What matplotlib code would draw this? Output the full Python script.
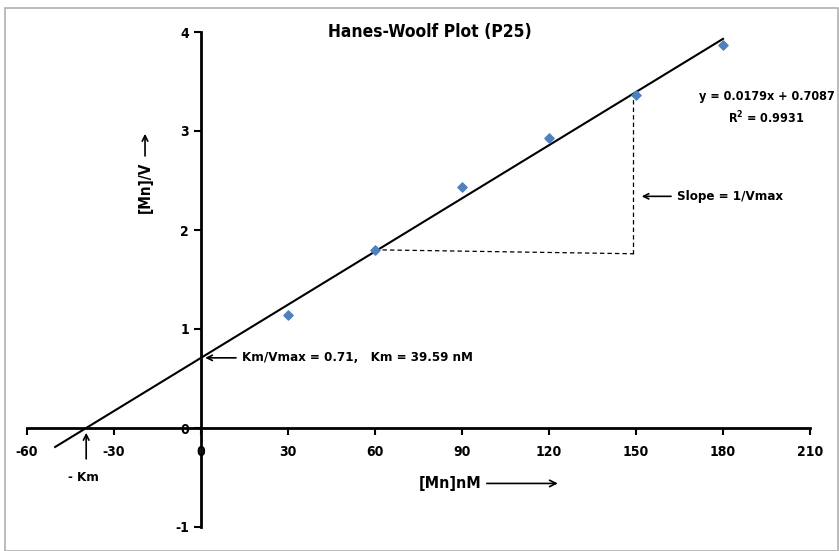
import matplotlib.pyplot as plt
import matplotlib.patches as mpatches
import numpy as np

# substrate concentration [Mn] (nM) and [Mn]/V
mn_conc = [30, 60, 90, 120, 150, 180]
mn_over_v = [1.14, 1.80, 2.43, 2.93, 3.36, 3.87]

slope = 0.0179
intercept = 0.7087
r_squared = 0.9931
km = 39.59

x_ticks = [-60, -30, 0, 30, 60, 90, 120, 150, 180, 210]
y_ticks = [-1, 0, 1, 2, 3, 4]

plt.rcParams['font.family'] = ['DejaVu Sans']
plt.rcParams['font.stretch'] = 'condensed'
plt.rcParams['font.weight'] = 'bold'
plt.rcParams['axes.unicode_minus'] = False

fig = plt.figure(figsize=(8.39, 5.51), dpi=100)
ax = fig.add_axes([27 / 839, 24 / 551, 783 / 839, 495 / 551])

# border round the figure
fig.patches.append(mpatches.Rectangle((5 / 839, 0), 833 / 839, 543 / 551,
                                      transform=fig.transFigure, fill=False,
                                      edgecolor='#b0b0b0', linewidth=1.2))

ax.set_xlim(-60, 210)
ax.set_ylim(-1, 4)

for side in ['top', 'right']:
    ax.spines[side].set_visible(False)
ax.spines['left'].set_position(('data', 0))
ax.spines['bottom'].set_position(('data', 0))
ax.spines['left'].set_linewidth(2)
ax.spines['bottom'].set_linewidth(2)

ax.set_xticks(x_ticks)
ax.set_yticks(y_ticks)
ax.tick_params(direction='out', length=5, width=1.5, labelsize=10)
ax.tick_params(axis='x', pad=7)
for lbl in ax.get_xticklabels() + ax.get_yticklabels():
    lbl.set_fontweight('bold')

# trend line
xfit = np.array([-50.3, 180])
ax.plot(xfit, slope * xfit + intercept, color='black', linewidth=1.5, zorder=2)

ax.scatter(mn_conc, mn_over_v, marker='D', s=22, color='#4f81bd', zorder=3)

# slope triangle
ax.plot([60, 149], [1.80, 1.76], color='black', linewidth=0.9, dashes=(3.5, 2.5))
ax.plot([149, 149], [1.76, 3.36], color='black', linewidth=0.9, dashes=(3.5, 2.5))

ax.text(0.515, 1.0, 'Hanes-Woolf Plot (P25)', transform=ax.transAxes,
        ha='center', va='center', fontsize=12.5, fontweight='bold')

ax.text(195, 3.35, 'y = 0.0179x + 0.7087', ha='center', va='center', fontsize=9, fontweight='bold')
ax.text(195, 3.13, 'R$^2$ = %.4f' % r_squared, ha='center', va='center', fontsize=9, fontweight='bold')

arrow = dict(arrowstyle='->', color='black', linewidth=1.2)
ax.annotate('Slope = 1/Vmax', xy=(151, 2.34), xytext=(164, 2.34), ha='left', va='center',
            fontsize=9.5, fontweight='bold', arrowprops=arrow)
ax.annotate('Km/Vmax = 0.71,   Km = %.2f nM' % km, xy=(0.5, intercept), xytext=(14, intercept),
            ha='left', va='center', fontsize=9.5, fontweight='bold', arrowprops=arrow)
ax.annotate('', xy=(-km, -0.02), xytext=(-km, -0.34), arrowprops=arrow)
ax.text(-46, -0.5, '- Km', ha='left', va='center', fontsize=9.5, fontweight='bold')

ax.annotate('[Mn]nM', xy=(124, -0.56), xytext=(75, -0.56), ha='left', va='center',
            fontsize=11.5, fontweight='bold', arrowprops=arrow)
ax.annotate('', xy=(-19.3, 3.0), xytext=(-19.3, 2.72), arrowprops=arrow)
ax.text(-19.3, 2.43, '[Mn]/V', rotation=90, ha='center', va='center',
        fontsize=11, fontweight='bold')

fig.savefig('out.png', dpi=100)
